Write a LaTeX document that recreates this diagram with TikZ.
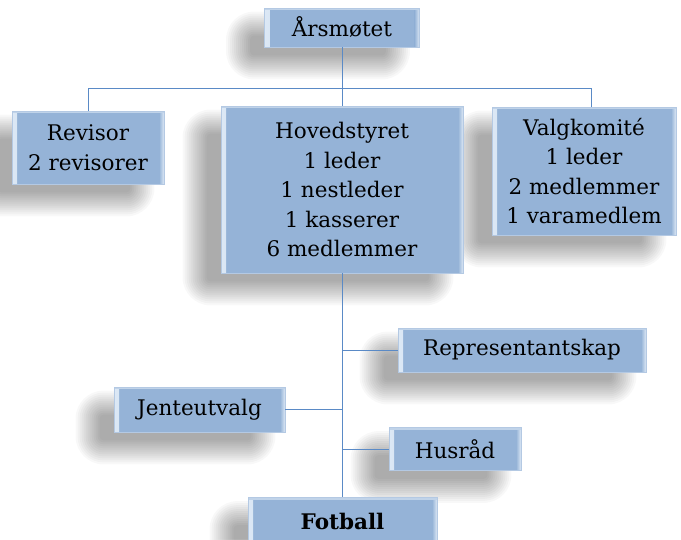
\documentclass[tikz,border=0pt]{standalone}
\usepackage{fontspec}
\setmainfont{DejaVu Serif}
\pgfdeclarelayer{bg0}
\pgfdeclarelayer{background}
\pgfsetlayers{bg0,background,main}
\definecolor{boxfill}{HTML}{95B3D7}
\definecolor{hl}{HTML}{DCE8F5}
\definecolor{boxline}{HTML}{B4C9E3}
\definecolor{connc}{HTML}{5A8AC6}
\tikzset{
  orgbox/.style={rectangle, fill=boxfill, draw=boxline, line width=0.8pt,
    align=center, inner sep=2pt, font=\fontsize{21.5}{29.5}\selectfont,
    path picture={
      \fill[left color=hl, right color=boxfill] (path picture bounding box.south west) rectangle ([xshift=5pt]path picture bounding box.north west);
      \fill[right color=hl, left color=boxfill] (path picture bounding box.south east) rectangle ([xshift=-5pt]path picture bounding box.north east);
      \fill[hl!60!boxfill] (path picture bounding box.north west) rectangle ([yshift=-2pt]path picture bounding box.north east);
    }},
  conn/.style={draw=connc, line width=0.9pt},
  shadowlayer/.style={black, opacity=0.028}
}
\newcommand{\softshadow}[1]{%
  \begin{pgfonlayer}{background}
  \foreach \s in {-14,-12,...,10} {
    \pgfmathsetmacro{\rc}{max(1,14-\s)}
    \fill[shadowlayer, rounded corners=\rc pt] ([shift={(-24+\s,18+\s)}]#1.north west) rectangle ([shift={(-24-\s,18-\s)}]#1.south east);
  }
  \end{pgfonlayer}}
\begin{document}
\begin{tikzpicture}[x=1pt,y=-1pt]
\begin{pgfonlayer}{bg0}
\fill[white] (0,0) rectangle (681,539);
\end{pgfonlayer}
\useasboundingbox (0,0) rectangle (681,539);
% nodes
\node[orgbox, minimum width=155, minimum height=39] (ars) at (342,27.5) {Årsmøtet};
\node[orgbox, minimum width=152, minimum height=73] (rev) at (88,147.5) {Revisor\\2 revisorer};
\node[orgbox, minimum width=242, minimum height=167] (hs) at (342,189.5) {Hovedstyret\\1 leder\\1 nestleder\\1 kasserer\\6 medlemmer};
\node[orgbox, minimum width=184, minimum height=128] (valg) at (584,171) {Valgkomité\\1 leder\\2 medlemmer\\1 varamedlem};
\node[orgbox, minimum width=248, minimum height=44] (rep) at (522,350) {Representantskap};
\node[orgbox, minimum width=171, minimum height=45] (jen) at (199.5,409.5) {Jenteutvalg};
\node[orgbox, minimum width=132, minimum height=43] (hus) at (455,449) {Husråd};
\node[orgbox, minimum width=189, minimum height=48, font=\fontsize{21.5}{29.5}\selectfont\bfseries] (fot) at (342.5,521.5) {Fotball};
% shadows
\softshadow{ars}
\softshadow{rev}
\softshadow{hs}
\softshadow{valg}
\softshadow{rep}
\softshadow{jen}
\softshadow{hus}
\softshadow{fot}
% connectors
\coordinate (barL) at (88,88);
\coordinate (barR) at (591,88);
\draw[conn] (ars.south) -- (hs.north);
\draw[conn] (rev.north) -- (barL) -- (barR) -- (valg.north -| barR);
\draw[conn] (hs.south) -- (fot.north -| hs.south);
\draw[conn] (rep.west) -- (rep.west -| hs.south);
\draw[conn] (jen.east) -- (jen.east -| hs.south);
\draw[conn] (hus.west) -- (hus.west -| hs.south);
\end{tikzpicture}
\end{document}
